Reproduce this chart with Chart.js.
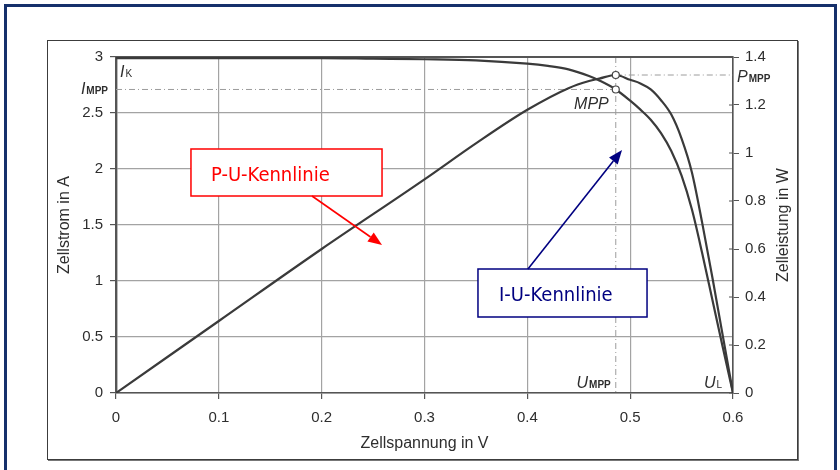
<!DOCTYPE html>
<html><head><meta charset="utf-8">
<script src="https://cdn.jsdelivr.net/npm/chart.js@4.4.1/dist/chart.umd.min.js"></script>
<style>
html,body{margin:0;padding:0;background:#fff;width:840px;height:470px;overflow:hidden;}
#outer{position:absolute;left:4px;top:4px;width:833px;height:495px;border:3px solid #15306b;box-sizing:border-box;}
#inner{position:absolute;left:47px;top:40px;width:751px;height:420px;border:1px solid #3c3c3c;box-sizing:border-box;box-shadow:1px 1px 0 #777;}
canvas{position:absolute;left:0;top:0;}
</style></head><body>
<div id="outer"></div><div id="inner"></div>
<canvas id="c" width="840" height="470"></canvas>
<script>
// ---- data ----
const voltageI = [0, 0.05, 0.1, 0.15, 0.2, 0.25, 0.3, 0.35, 0.4, 0.42, 0.44, 0.46, 0.47, 0.486, 0.5, 0.51, 0.52, 0.53, 0.54, 0.55, 0.56, 0.57, 0.58, 0.59, 0.6];
const currentA = [2.99, 2.99, 2.99, 2.99, 2.99, 2.985, 2.98, 2.97, 2.94, 2.92, 2.89, 2.83, 2.79, 2.71, 2.61, 2.53, 2.44, 2.32, 2.16, 1.94, 1.64, 1.25, 0.83, 0.41, 0];
const voltageP = [0, 0.05, 0.1, 0.2, 0.3, 0.35, 0.4, 0.44, 0.46, 0.47, 0.486, 0.5, 0.51, 0.52, 0.53, 0.54, 0.55, 0.56, 0.57, 0.58, 0.59, 0.6];
const powerW   = [0, 0.15, 0.30, 0.60, 0.89, 1.04, 1.18, 1.27, 1.30, 1.31, 1.325, 1.305, 1.29, 1.265, 1.22, 1.16, 1.06, 0.92, 0.71, 0.48, 0.24, 0];
const mppVoltage = [0.486];
const mppCurrent = [2.71];
const mppPower = [1.325];
const xTickLabels = ['0', '0.1', '0.2', '0.3', '0.4', '0.5', '0.6'];
const iTickLabels = ['0', '0.5', '1', '1.5', '2', '2.5', '3'];
const pTickLabels = ['0', '0.2', '0.4', '0.6', '0.8', '1', '1.2', '1.4'];
const xTitle = 'Zellspannung in V';
const iTitle = 'Zellstrom in A';
const pTitle = 'Zelleistung in W';
const puLabel = 'P-U-Kennlinie';
const iuLabel = 'I-U-Kennlinie';

// ---- annotation placement (data units) & styles ----
const annotations = [
  {text: puLabel, color: '#ff0000', box: [0.0729, 2.1786, 0.2587, 1.7589], textAt: [0.0924, 1.893],
   from: [0.1906, 1.7589], to: [0.2587, 1.3214]},
  {text: iuLabel, color: '#000080', box: [0.352, 1.1071, 0.5164, 0.6786], textAt: [0.3725, 0.821],
   from: [0.4006, 1.1071], to: [0.4921, 2.1696]}
];

const FONT = "'Liberation Sans', Arial, sans-serif";
const TXT = '#2e2e2e';
const GRID = '#a3a3a3';
const AXIS = '#555';

const pts = (xs, ys) => xs.map((v, i) => ({x: v, y: ys[i]}));
const setTicks = labels => scale => { scale.ticks = labels.map(l => ({value: Number(l)})); };

function drawSub(ctx, main, sub, x, y, align, subBold) {
  ctx.font = 'italic 16px ' + FONT;
  const wm = ctx.measureText(main).width;
  ctx.font = (subBold ? 'bold 10px ' : '10px ') + FONT;
  const ws = ctx.measureText(sub).width;
  let sx = align === 'right' ? x - wm - ws - 1 : x;
  ctx.textAlign = 'left'; ctx.textBaseline = 'alphabetic'; ctx.fillStyle = TXT;
  ctx.font = 'italic 16px ' + FONT;
  ctx.fillText(main, sx, y);
  ctx.font = (subBold ? 'bold 10px ' : '10px ') + FONT;
  ctx.fillText(sub, sx + wm + 1, y);
}

function arrow(ctx, x0, y0, x1, y1, color) {
  const ang = Math.atan2(y1 - y0, x1 - x0), L = 14, W = 5.5;
  const bx = x1 - L * Math.cos(ang), by = y1 - L * Math.sin(ang);
  ctx.strokeStyle = color; ctx.lineWidth = 1.6;
  ctx.beginPath(); ctx.moveTo(x0, y0); ctx.lineTo(bx, by); ctx.stroke();
  ctx.fillStyle = color;
  ctx.beginPath();
  ctx.moveTo(x1, y1);
  ctx.lineTo(bx + W * Math.sin(ang), by - W * Math.cos(ang));
  ctx.lineTo(bx - W * Math.sin(ang), by + W * Math.cos(ang));
  ctx.closePath(); ctx.fill();
}

const decor = {
  id: 'decor',
  beforeDatasetsDraw(chart) {
    const {ctx, chartArea: a, scales: {x, yI, yP}} = chart;
    ctx.save();
    ctx.strokeStyle = '#9c9c9c'; ctx.lineWidth = 1; ctx.setLineDash([6, 3, 1, 3]);
    const ux = x.getPixelForValue(mppVoltage[0]);
    const iy = yI.getPixelForValue(mppCurrent[0]);
    const py = yP.getPixelForValue(mppPower[0]);
    ctx.beginPath();
    ctx.moveTo(ux, a.top); ctx.lineTo(ux, a.bottom);
    ctx.moveTo(a.left, iy); ctx.lineTo(ux, iy);
    ctx.moveTo(ux, py); ctx.lineTo(a.right, py);
    ctx.stroke();
    ctx.setLineDash([]);
    ctx.strokeStyle = AXIS; ctx.lineWidth = 2;
    ctx.beginPath(); ctx.moveTo(a.left, a.top); ctx.lineTo(a.right, a.top); ctx.stroke();
    ctx.lineWidth = 1;
    yP.ticks.forEach(t => {
      const y = yP.getPixelForValue(t.value);
      ctx.beginPath(); ctx.moveTo(a.right - 4, y); ctx.lineTo(a.right, y); ctx.stroke();
    });
    ctx.restore();
  },
  afterDraw(chart) {
    const {ctx, chartArea: a, scales: {x, yI, yP}} = chart;
    ctx.save();
    ctx.translate(a.right + 51, (a.top + a.bottom) / 2);
    ctx.rotate(-Math.PI / 2);
    ctx.font = '16px ' + FONT; ctx.fillStyle = TXT; ctx.textAlign = 'center'; ctx.textBaseline = 'middle';
    ctx.fillText(pTitle, 0, 0);
    ctx.restore();

    ctx.save();
    const ux = x.getPixelForValue(mppVoltage[0]);
    const iy = yI.getPixelForValue(mppCurrent[0]);
    const py = yP.getPixelForValue(mppPower[0]);
    drawSub(ctx, 'I', 'K', a.left + 4, a.top + 20, 'left', false);
    drawSub(ctx, 'I', 'MPP', a.left - 8, iy + 5, 'right', true);
    drawSub(ctx, 'P', 'MPP', a.right + 4, py + 7, 'left', true);
    drawSub(ctx, 'U', 'MPP', ux - 5, a.bottom - 5, 'right', true);
    drawSub(ctx, 'U', 'L', a.right - 11, a.bottom - 5, 'right', false);
    ctx.font = 'italic 16px ' + FONT; ctx.fillStyle = TXT; ctx.textAlign = 'right'; ctx.textBaseline = 'alphabetic';
    ctx.fillText('MPP', ux - 7, iy + 20);

    annotations.forEach(an => {
      const X = v => x.getPixelForValue(v), Y = v => yI.getPixelForValue(v);
      const bx0 = X(an.box[0]), by0 = Y(an.box[1]), bx1 = X(an.box[2]), by1 = Y(an.box[3]);
      ctx.fillStyle = '#fff';
      ctx.fillRect(bx0, by0, bx1 - bx0, by1 - by0);
      ctx.strokeStyle = an.color; ctx.lineWidth = 1.5;
      ctx.strokeRect(bx0, by0, bx1 - bx0, by1 - by0);
      ctx.fillStyle = an.color; ctx.textAlign = 'left'; ctx.textBaseline = 'alphabetic';
      ctx.font = "20px 'DejaVu Sans Condensed', 'Liberation Sans', Arial, sans-serif";
      ctx.fillText(an.text, X(an.textAt[0]), Y(an.textAt[1]));
      arrow(ctx, X(an.from[0]), Y(an.from[1]), X(an.to[0]), Y(an.to[1]), an.color);
    });
    ctx.restore();
  }
};

new Chart(document.getElementById('c'), {
  type: 'line',
  data: {
    datasets: [
      {label: 'MPP I', data: pts(mppVoltage, mppCurrent), yAxisID: 'yI', showLine: false, order: 0,
       pointRadius: 3.5, pointBackgroundColor: '#fff', pointBorderColor: '#444', pointBorderWidth: 1.2},
      {label: 'MPP P', data: pts(mppVoltage, mppPower), yAxisID: 'yP', showLine: false, order: 0,
       pointRadius: 3.5, pointBackgroundColor: '#fff', pointBorderColor: '#444', pointBorderWidth: 1.2},
      {label: 'I-U', data: pts(voltageI, currentA), yAxisID: 'yI', order: 1,
       borderColor: '#3a3a3a', borderWidth: 2.2, pointRadius: 0, cubicInterpolationMode: 'monotone', fill: false},
      {label: 'P-U', data: pts(voltageP, powerW), yAxisID: 'yP', order: 1,
       borderColor: '#3a3a3a', borderWidth: 2.2, pointRadius: 0, cubicInterpolationMode: 'monotone', fill: false}
    ]
  },
  options: {
    responsive: false, animation: false, devicePixelRatio: 1,
    layout: {padding: {left: 47, top: 57, right: 43, bottom: 11}},
    plugins: {legend: {display: false}, tooltip: {enabled: false}},
    scales: {
      x: {
        type: 'linear', min: 0, max: 0.6,
        afterBuildTicks: setTicks(xTickLabels),
        afterFit: s => { s.height = 66; },
        ticks: {callback: (v, i) => xTickLabels[i], color: TXT, font: {family: FONT, size: 15}, padding: 10, maxRotation: 0},
        grid: {color: GRID, lineWidth: 1.2, tickLength: 6, tickColor: AXIS},
        border: {color: AXIS, width: 1.6},
        title: {display: true, text: xTitle, color: TXT, font: {family: FONT, size: 16}, padding: {top: 0, bottom: 6}}
      },
      yI: {
        type: 'linear', position: 'left', min: 0, max: 3,
        afterBuildTicks: setTicks(iTickLabels),
        afterFit: s => { s.width = 69; },
        ticks: {callback: (v, i) => iTickLabels[i], color: TXT, font: {family: FONT, size: 15}, padding: 7},
        grid: {color: GRID, lineWidth: 1.2, tickLength: 6, tickColor: AXIS},
        border: {color: AXIS, width: 2.4},
        title: {display: true, text: iTitle, color: TXT, font: {family: FONT, size: 16}, padding: {top: 8, bottom: 0}}
      },
      yP: {
        type: 'linear', position: 'right', min: 0, max: 1.4,
        afterBuildTicks: setTicks(pTickLabels),
        afterFit: s => { s.width = 64; },
        ticks: {callback: (v, i) => pTickLabels[i], color: TXT, font: {family: FONT, size: 15}, padding: 6},
        grid: {drawOnChartArea: false, tickLength: 6, tickColor: AXIS},
        border: {color: AXIS, width: 1.6},
        title: {display: false}
      }
    }
  },
  plugins: [decor]
});
</script></body></html>
